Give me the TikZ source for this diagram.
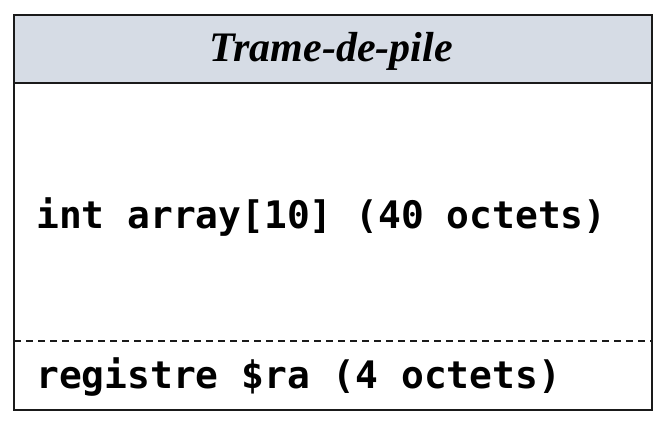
\documentclass[tikz,border=0pt]{standalone}
\usepackage{fontspec}
\setmainfont{Liberation Serif}
\newfontfamily\codefont{DejaVu Sans Mono}
\definecolor{headfill}{HTML}{D6DCE5}
\definecolor{linecol}{HTML}{1A1A1A}
\begin{document}
\begin{tikzpicture}[x=1pt,y=1pt,
  codetext/.style={anchor=base west,inner sep=0pt,font=\codefont\bfseries\fontsize{37.9}{40}\selectfont},
  frame/.style={draw=linecol,line width=1.8pt}]
\useasboundingbox (0,0) rectangle (664,424);
\fill[white] (0,0) rectangle (664,424);
% header
\fill[headfill] (14,409) rectangle (652,341);
\draw[frame] (14,409) rectangle (652,14);
\draw[frame] (14,341) -- (652,341);
\node[inner sep=0pt,font=\bfseries\itshape\fontsize{42}{44}\selectfont] (title) at (331,373) {Trame-de-pile};
% dashed separator
\coordinate (dl) at (14,83);
\coordinate (dr) at (652,83);
\draw[linecol,line width=1.2pt,dash pattern=on 7pt off 5pt] (dl) -- (dr);
\node[codetext] (arr) at (36,196) {int array[10] (40 octets)};
\node[codetext] (ra) at (36,36) {registre \$ra (4 octets)};
\end{tikzpicture}
\end{document}
